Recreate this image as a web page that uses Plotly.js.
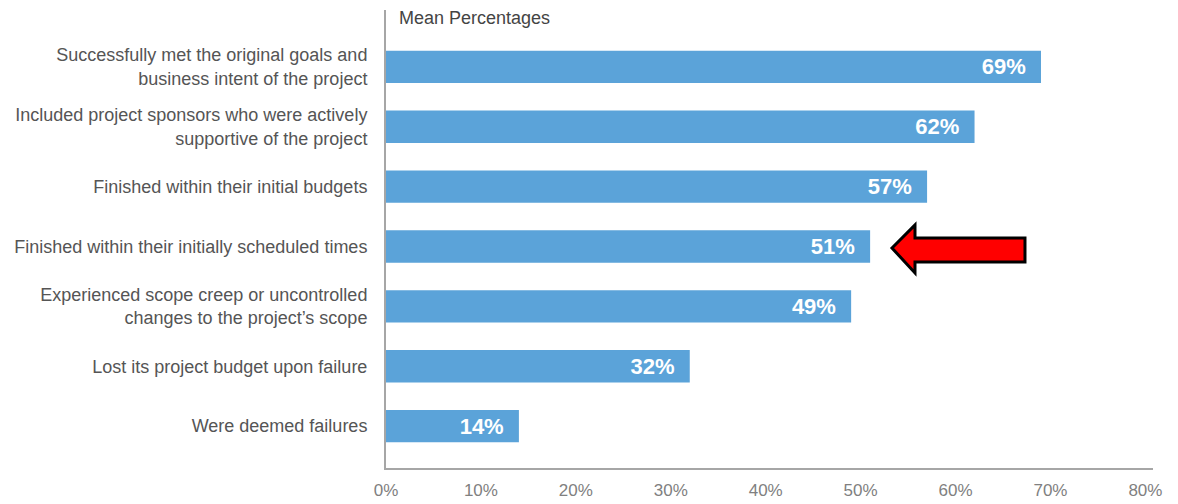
<!DOCTYPE html>
<html>
<head>
<meta charset="utf-8">
<script src="https://cdn.plot.ly/plotly-3.0.1.min.js"></script>
<style>html,body{margin:0;padding:0;background:#fff;}#chart{width:1178px;height:504px;}</style>
</head>
<body>
<div id="chart"></div>
<script>
var categories = [
  "Successfully met the original goals and<br>business intent of the project",
  "Included project sponsors who were actively<br>supportive of the project",
  "Finished within their initial budgets",
  "Finished within their initially scheduled times",
  "Experienced scope creep or uncontrolled<br>changes to the project’s scope",
  "Lost its project budget upon failure",
  "Were deemed failures"
];
var values = [69, 62, 57, 51, 49, 32, 14];
var tickValues = [0, 10, 20, 30, 40, 50, 60, 70, 80];
var tickLabels = ["0%", "10%", "20%", "30%", "40%", "50%", "60%", "70%", "80%"];

var trace = {
  type: "bar",
  orientation: "h",
  x: values,
  y: categories,
  marker: {color: "#5BA3D9"},
  text: values.map(function(v){ return v + "%\u00a0\u00a0"; }),
  textposition: "inside",
  insidetextanchor: "end",
  textfont: {family: "Liberation Sans, Arial, sans-serif", size: 22, color: "#ffffff", weight: "bold"},
  hoverinfo: "none",
  cliponaxis: false
};

var layout = {
  width: 1178,
  height: 504,
  margin: {l: 386, r: 25, t: 10, b: 36},
  paper_bgcolor: "#ffffff",
  plot_bgcolor: "#ffffff",
  showlegend: false,
  bargap: 0.46,
  font: {family: "Liberation Sans, Arial, sans-serif", color: "#555555"},
  xaxis: {
    range: [0, 80.8],
    tickvals: tickValues,
    ticktext: tickLabels,
    showgrid: false,
    zeroline: false,
    showline: true,
    linecolor: "#a6a6a6",
    linewidth: 2,
    ticks: "",
    ticklabelstandoff: 6,
    tickfont: {size: 17, color: "#808080"}
  },
  yaxis: {
    type: "category",
    categoryorder: "array",
    categoryarray: categories,
    range: [6.70, -0.95],
    showgrid: false,
    zeroline: false,
    showline: true,
    linecolor: "#a6a6a6",
    linewidth: 2,
    ticks: "",
    ticklabelstandoff: 13,
    tickfont: {size: 18, color: "#555555"}
  },
  annotations: [{
    xref: "paper", yref: "paper",
    x: 0.014, y: 1.0, xanchor: "left", yanchor: "top",
    yshift: 4,
    text: "Mean Percentages",
    showarrow: false,
    font: {size: 18, color: "#444444"}
  }],
  shapes: [{
    type: "path",
    xref: "paper", yref: "paper",
    path: "M 0.6597 0.4803 L 0.6897 0.5306 L 0.6897 0.5022 L 0.8331 0.5022 L 0.8331 0.4498 L 0.6897 0.4498 L 0.6897 0.4258 Z",
    fillcolor: "#ff0000",
    line: {color: "#000000", width: 3}
  }]
};

Plotly.newPlot("chart", [trace], layout, {displayModeBar: false, staticPlot: true});
</script>
</body>
</html>
